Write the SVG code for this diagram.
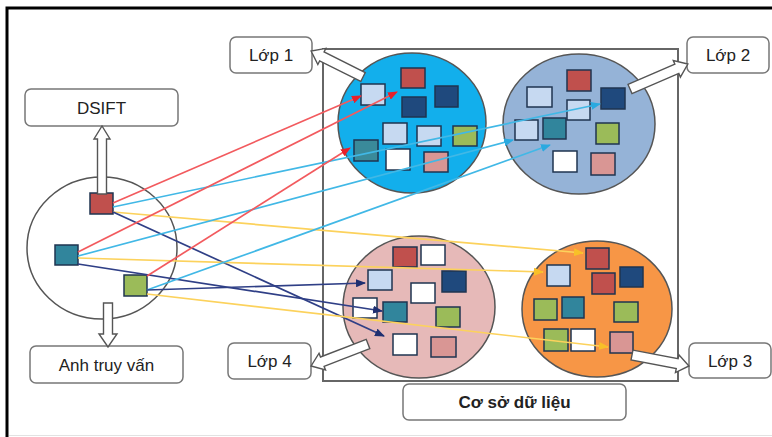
<svg xmlns="http://www.w3.org/2000/svg" width="772" height="437" viewBox="0 0 772 437">
<style>
.lbl{fill:#fff;stroke:#777;stroke-width:1.5}
.t{font-family:"Liberation Sans",Arial,sans-serif;font-size:17px;fill:#222;text-anchor:middle;dominant-baseline:central}
.b{font-weight:bold}
.circ{stroke:#555;stroke-width:1.5}
.sq rect{stroke:#1f3550;stroke-width:1.5}
.r{fill:#c0504d}.n{fill:#1f497d}.lb{fill:#c6d9f1}.g{fill:#9bbb59}.tl{fill:#31859c}.w{fill:#fff}.p{fill:#d99694}
.ha{fill:#fff;stroke:#555;stroke-width:1.4}
.cn line{stroke-width:1.7;fill:none}
.cr{stroke:#f25a5e}.cc{stroke:#41b8e6}.cy{stroke:#fcd25c}.cv{stroke:#2f3f86}
</style>
<defs>
<marker id="mr" markerUnits="userSpaceOnUse" markerWidth="10" markerHeight="8" refX="9" refY="4" orient="auto"><path d="M0,0 L10,4 L0,8 Z" fill="#e8202a"/></marker>
<marker id="mc" markerUnits="userSpaceOnUse" markerWidth="10" markerHeight="8" refX="9" refY="4" orient="auto"><path d="M0,0 L10,4 L0,8 Z" fill="#29a9e0"/></marker>
<marker id="my" markerUnits="userSpaceOnUse" markerWidth="10" markerHeight="8" refX="9" refY="4" orient="auto"><path d="M0,0 L10,4 L0,8 Z" fill="#f8c028"/></marker>
<marker id="mv" markerUnits="userSpaceOnUse" markerWidth="10" markerHeight="8" refX="9" refY="4" orient="auto"><path d="M0,0 L10,4 L0,8 Z" fill="#1f2f70"/></marker>
</defs>
<rect width="772" height="437" fill="#fff"/>
<path d="M7,437 V8 H772" fill="none" stroke="#000" stroke-width="3"/>
<line x1="9" y1="435.5" x2="772" y2="435.5" stroke="#e2e2e2" stroke-width="1"/>

<g id="database">
<rect x="323" y="49" width="355" height="332" fill="none" stroke="#666" stroke-width="2"/>
</g>

<g id="query">
<ellipse class="circ" cx="102" cy="248" rx="75" ry="71" fill="#fff"/>
<g class="sq">
<rect class="r" x="90" y="193" width="23" height="21"/>
<rect class="tl" x="55" y="245" width="23" height="20"/>
<rect class="g" x="124" y="275" width="23" height="21"/>
</g>
</g>

<g id="class1">
<ellipse class="circ" cx="412" cy="123" rx="74" ry="70" fill="#12afec"/>
<g class="sq">
<rect class="lb" x="361" y="84" width="24" height="21"/>
<rect class="r" x="401" y="68" width="24" height="20"/>
<rect class="n" x="435" y="86" width="23" height="21"/>
<rect class="n" x="402" y="97" width="24" height="20"/>
<rect class="lb" x="383" y="123" width="24" height="21"/>
<rect class="lb" x="417" y="126" width="24" height="20"/>
<rect class="g" x="453" y="126" width="24" height="20"/>
<rect fill="#3a8a9a" x="354" y="140" width="24" height="21"/>
<rect class="w" x="386" y="149" width="24" height="21"/>
<rect class="p" x="424" y="152" width="24" height="20"/>
</g>
</g>

<g id="class2">
<ellipse class="circ" cx="579" cy="124" rx="76" ry="70" fill="#95b3d7"/>
<g class="sq">
<rect class="r" x="567" y="70" width="24" height="21"/>
<rect class="lb" x="527" y="87" width="25" height="20"/>
<rect class="n" x="601" y="88" width="24" height="21"/>
<rect class="lb" x="567" y="100" width="23" height="20"/>
<rect class="lb" x="515" y="120" width="23" height="20"/>
<rect class="tl" x="543" y="118" width="23" height="21"/>
<rect class="g" x="596" y="123" width="23" height="21"/>
<rect class="w" x="553" y="151" width="24" height="21"/>
<rect class="p" x="591" y="153" width="24" height="22"/>
</g>
</g>

<g id="class4">
<ellipse class="circ" cx="419" cy="307" rx="76" ry="71" fill="#e6b9b8"/>
<g class="sq">
<rect class="r" x="393" y="247" width="24" height="20"/>
<rect class="w" x="421" y="245" width="24" height="20"/>
<rect class="lb" x="368" y="270" width="24" height="20"/>
<rect class="n" x="442" y="271" width="24" height="21"/>
<rect class="w" x="411" y="283" width="24" height="20"/>
<rect class="w" x="353" y="298" width="24" height="20"/>
<rect class="tl" x="383" y="302" width="24" height="20"/>
<rect class="g" x="436" y="307" width="24" height="20"/>
<rect class="w" x="393" y="334" width="24" height="21"/>
<rect class="p" x="431" y="337" width="25" height="20"/>
</g>
</g>

<g id="class3">
<ellipse class="circ" cx="597" cy="309" rx="75" ry="68" fill="#f79646"/>
<g class="sq">
<rect class="r" x="586" y="248" width="23" height="21"/>
<rect class="lb" x="547" y="265" width="23" height="21"/>
<rect class="r" x="592" y="273" width="23" height="21"/>
<rect class="n" x="620" y="267" width="23" height="20"/>
<rect class="g" x="534" y="299" width="23" height="21"/>
<rect class="tl" x="562" y="297" width="22" height="21"/>
<rect class="g" x="614" y="302" width="24" height="20"/>
<rect class="g" x="544" y="329" width="24" height="22"/>
<rect class="w" x="571" y="329" width="24" height="22"/>
<rect class="p" x="610" y="332" width="23" height="21"/>
</g>
</g>

<g id="label-dsift"><rect class="lbl" x="25" y="89" width="153" height="37" rx="6"/><text class="t" x="101.5" y="108">DSIFT</text></g>
<g id="label-anh"><rect class="lbl" x="30" y="346" width="153" height="37" rx="6"/><text class="t" x="106.5" y="365">Anh truy vấn</text></g>
<g id="label-lop1"><rect class="lbl" x="230" y="37" width="82" height="36" rx="6"/><text class="t" x="271" y="55.5">Lớp 1</text></g>
<g id="label-lop2"><rect class="lbl" x="687" y="37" width="82" height="36" rx="6"/><text class="t" x="728" y="55.5">Lớp 2</text></g>
<g id="label-lop3"><rect class="lbl" x="689" y="343" width="82" height="35" rx="6"/><text class="t" x="730" y="361">Lớp 3</text></g>
<g id="label-lop4"><rect class="lbl" x="228" y="343" width="83" height="36" rx="6"/><text class="t" x="269.5" y="361.5">Lớp 4</text></g>
<g id="label-db"><rect class="lbl" x="403" y="384" width="223" height="36" rx="6"/><text class="t b" x="514.5" y="402.5">Cơ sở dữ liệu</text></g>

<g id="block-arrows">
<path class="ha" transform="translate(102,194) rotate(-90)" d="M0,-4.5 H55 V-8 L68,0 L55,8 V4.5 H0 Z"/>
<path class="ha" transform="translate(108,303) rotate(90)" d="M0,-4.5 H31 V-9 L44,0 L31,9 V4.5 H0 Z"/>
<path class="ha" transform="translate(363,77) rotate(206.57)" d="M0,-5 H46 V-9 L58,0 L46,9 V5 H0 Z"/>
<path class="ha" transform="translate(630,89) rotate(-23.3)" d="M0,-5 H51 V-9 L63,0 L51,9 V5 H0 Z"/>
<path class="ha" transform="translate(632,355) rotate(10.9)" d="M0,-5 H46 V-9 L58,0 L46,9 V5 H0 Z"/>
<path class="ha" transform="translate(368,344) rotate(158.9)" d="M0,-5 H49 V-9 L61,0 L49,9 V5 H0 Z"/>
</g>

<g id="connectors" class="cn">
<line class="cr" x1="113" y1="203" x2="361" y2="96" marker-end="url(#mr)"/>
<line class="cc" x1="113" y1="207" x2="600" y2="104" marker-end="url(#mc)"/>
<line class="cy" x1="113" y1="212" x2="583" y2="253" marker-end="url(#my)"/>
<line class="cv" x1="113" y1="212" x2="384" y2="336" marker-end="url(#mv)"/>
<line class="cr" x1="78" y1="252" x2="397" y2="92" marker-end="url(#mr)"/>
<line class="cc" x1="78" y1="256" x2="513" y2="140" marker-end="url(#mc)"/>
<line class="cy" x1="78" y1="258" x2="543" y2="272" marker-end="url(#my)"/>
<line class="cv" x1="78" y1="264" x2="382" y2="311" marker-end="url(#mv)"/>
<line class="cr" x1="147" y1="276" x2="350" y2="148" marker-end="url(#mr)"/>
<line class="cc" x1="147" y1="290" x2="550" y2="145" marker-end="url(#mc)"/>
<line class="cy" x1="147" y1="294" x2="608" y2="347" marker-end="url(#my)"/>
<line class="cv" x1="147" y1="290" x2="365" y2="283" marker-end="url(#mv)"/>
</g>
</svg>
